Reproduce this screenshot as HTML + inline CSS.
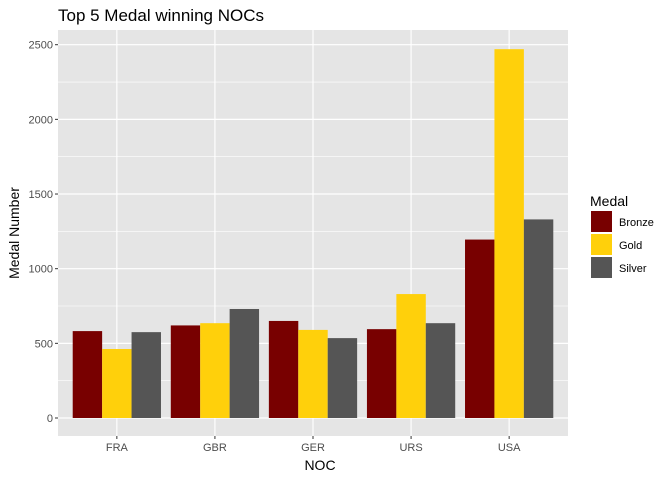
<!DOCTYPE html>
<html><head><meta charset="utf-8"><style>
body{margin:0;background:#fff;font-family:"Liberation Sans",sans-serif}
</style></head><body>
<svg width="672" height="480" xmlns="http://www.w3.org/2000/svg" font-family="Liberation Sans, sans-serif">
<text x="58" y="21" font-size="17" fill="#000">Top 5 Medal winning NOCs</text>
<rect x="58" y="30" width="510" height="406" fill="#e5e5e5"/>
<g id="grid"></g><g id="bars"></g><g id="axes"></g>
<text x="320" y="470" font-size="14" text-anchor="middle">NOC</text>
<text transform="translate(19,233) rotate(-90)" font-size="14" text-anchor="middle">Medal Number</text>
<g>
<text x="590" y="206" font-size="14">Medal</text>
<g id="legend"></g>
</g>
</svg>
<script>
const categories=["FRA","GBR","GER","URS","USA"];
const bronze=[582,620,650,595,1195];
const gold=[462,635,590,830,2470];
const silver=[575,730,535,635,1330];
const yTicks=[0,500,1000,1500,2000,2500];
const seriesNames=["Bronze","Gold","Silver"];
const colors=["#780000","#ffd00b","#555555"];
const ns="http://www.w3.org/2000/svg";
const L=58,R=568,T=30,B=436;
const y=v=>418-v*(418-44.7)/2500;
const unit=(R-L)/(categories.length+0.2);
const x=i=>L+(i+0.6)*unit;
function mk(t,a,p){const e=document.createElementNS(ns,t);for(const k in a)e.setAttribute(k,a[k]);p.appendChild(e);return e;}
const grid=document.getElementById('grid'),bars=document.getElementById('bars'),axes=document.getElementById('axes'),leg=document.getElementById('legend');
for(let i=0;i<yTicks.length-1;i++){const m=(yTicks[i]+yTicks[i+1])/2;const g=mk('line',{x1:L,x2:R,y1:y(m),y2:y(m),stroke:'#fff','stroke-width':0.6},grid);}
yTicks.forEach(v=>{const g=mk('line',{x1:L,x2:R,y1:y(v),y2:y(v),stroke:'#fff','stroke-width':1.2},grid);
const tk=mk('line',{x1:L-3,x2:L,y1:y(v),y2:y(v),stroke:'#333'},axes);
const t=mk('text',{x:L-5,y:y(v)+4,'font-size':11,'text-anchor':'end',fill:'#4d4d4d'},axes);t.textContent=v;});
const series=[bronze,gold,silver];const bw=unit*0.9/3;
categories.forEach((c,i)=>{const cx=x(i);
const g=mk('line',{x1:cx,x2:cx,y1:T,y2:B,stroke:'#fff','stroke-width':1.2},grid);
series.forEach((s,j)=>{const r=mk('rect',{x:cx-1.5*bw+j*bw,y:y(s[i]),width:bw,height:y(0)-y(s[i]),fill:colors[j]},bars);});
const tk=mk('line',{x1:cx,x2:cx,y1:B,y2:B+3,stroke:'#333'},axes);
const t=mk('text',{x:cx,y:B+15,'font-size':11,'text-anchor':'middle',fill:'#4d4d4d'},axes);t.textContent=c;});
seriesNames.forEach((n,j)=>{const yy=211+j*23;
const r=mk('rect',{x:591,y:yy,width:21,height:21,fill:colors[j]},leg);
const t=mk('text',{x:619,y:yy+15,'font-size':11,fill:'#000'},leg);t.textContent=n;});
</script>
</body></html>
